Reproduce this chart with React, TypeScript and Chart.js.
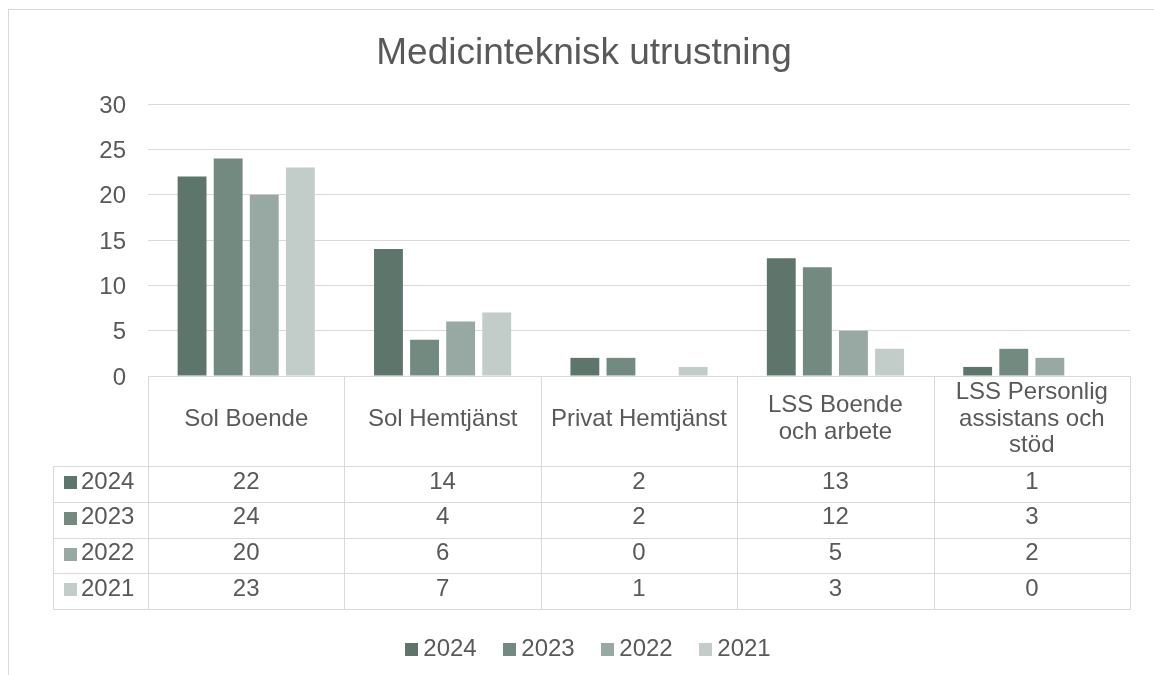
import React, { useEffect, useRef } from "react";
import { Chart, registerables } from "chart.js";

Chart.register(...registerables);

const TITLE = "Medicinteknisk utrustning";
const categories: string[][] = [
  ["Sol Boende"],
  ["Sol Hemtjänst"],
  ["Privat Hemtjänst"],
  ["LSS Boende", "och arbete"],
  ["LSS Personlig", "assistans och", "stöd"],
];
const seriesNames = ["2024", "2023", "2022", "2021"];
const values2024 = [22, 14, 2, 13, 1];
const values2023 = [24, 4, 2, 12, 3];
const values2022 = [20, 6, 0, 5, 2];
const values2021 = [23, 7, 1, 3, 0];
const seriesValues = [values2024, values2023, values2022, values2021];
const seriesColors = ["#5E756B", "#738A81", "#98A8A2", "#C2CCC9"];
const yTicksMax = 30;
const yTicksStep = 5;

const FONT = "'Liberation Sans', Arial, sans-serif";
const TEXT = "#595959";
const LINE = "#D9D9D9";

const tablePlugin = {
  id: "dataTable",
  afterDraw(chart: any) {
    const ctx: CanvasRenderingContext2D = chart.ctx;
    const area = chart.chartArea;
    const x = chart.scales.x;
    const n = categories.length;
    const catW = (area.right - area.left) / n;
    ctx.save();

    // outer frame
    ctx.strokeStyle = LINE;
    ctx.lineWidth = 1;
    ctx.strokeRect(8.5, 9.5, 1300, 800);

    // title
    ctx.fillStyle = TEXT;
    ctx.font = `37px ${FONT}`;
    ctx.textAlign = "center";
    ctx.textBaseline = "alphabetic";
    ctx.fillText(TITLE, 584, 64);

    // table geometry
    const top = Math.round(area.bottom);
    const headerBottom = 466;
    const rowH = 35.8;
    const tableLeft = 53;
    const rowYs = seriesNames.map((_, i) => headerBottom + i * rowH);
    const tableBottom = headerBottom + seriesNames.length * rowH;

    ctx.strokeStyle = LINE;
    ctx.lineWidth = 1;
    ctx.beginPath();
    for (let i = 0; i <= n; i++) {
      const px = Math.round(area.left + i * catW) + 0.5;
      ctx.moveTo(px, top);
      ctx.lineTo(px, Math.round(tableBottom) + 0.5);
    }
    ctx.moveTo(tableLeft + 0.5, headerBottom);
    ctx.lineTo(tableLeft + 0.5, Math.round(tableBottom) + 0.5);
    for (let r = 0; r <= seriesNames.length; r++) {
      const py = Math.round(headerBottom + r * rowH) + 0.5;
      ctx.moveTo(tableLeft, py);
      ctx.lineTo(Math.round(area.right) + 1, py);
    }
    ctx.stroke();

    // header labels
    ctx.fillStyle = TEXT;
    ctx.font = `24px ${FONT}`;
    ctx.textAlign = "center";
    ctx.textBaseline = "middle";
    const lineH = 26.7;
    categories.forEach((lines, i) => {
      const cx = x.getPixelForValue(i);
      const cy = 419;
      lines.forEach((t, j) => {
        ctx.fillText(t, cx, cy + (j - (lines.length - 1) / 2) * lineH);
      });
    });

    // rows
    seriesNames.forEach((name, r) => {
      const cy = rowYs[r] + rowH / 2 - 2;
      ctx.fillStyle = seriesColors[r];
      ctx.fillRect(64, Math.round(cy - 6), 13, 13);
      ctx.fillStyle = TEXT;
      ctx.textAlign = "left";
      ctx.fillText(name, 81, cy);
      ctx.textAlign = "center";
      seriesValues[r].forEach((v, i) => {
        ctx.fillText(String(v), x.getPixelForValue(i), cy);
      });
    });

    // legend
    const box = 13;
    const gapText = 5;
    const gapItem = 26.6;
    const widths = seriesNames.map((s) => box + gapText + ctx.measureText(s).width);
    const total = widths.reduce((a, b) => a + b, 0) + gapItem * (seriesNames.length - 1);
    let lx = 588 - total / 2;
    const ly = 649;
    seriesNames.forEach((s, i) => {
      ctx.fillStyle = seriesColors[i];
      ctx.fillRect(Math.round(lx), ly - 6, box, box);
      ctx.fillStyle = TEXT;
      ctx.textAlign = "left";
      ctx.fillText(s, lx + box + gapText, ly);
      lx += widths[i] + gapItem;
    });

    ctx.restore();
  },
};

export default function App() {
  const ref = useRef<HTMLCanvasElement | null>(null);
  useEffect(() => {
    if (!ref.current) return;
    const chart = new Chart(ref.current, {
      type: "bar",
      data: {
        labels: categories,
        datasets: seriesNames.map((name, i) => ({
          label: name,
          data: seriesValues[i],
          backgroundColor: seriesColors[i],
          borderWidth: 0,
          categoryPercentage: 0.735,
          barPercentage: 0.8,
        })),
      },
      options: {
        responsive: false,
        animation: false,
        layout: { padding: { top: 104, left: 0, right: 24, bottom: 299 } },
        plugins: {
          legend: { display: false },
          title: { display: false },
          tooltip: { enabled: false },
        },
        scales: {
          x: { display: false },
          y: {
            min: 0,
            max: yTicksMax,
            afterFit: (s: any) => {
              s.width = 148;
            },
            border: { display: false },
            grid: { color: LINE, lineWidth: 1, drawTicks: false },
            ticks: {
              stepSize: yTicksStep,
              padding: 22,
              labelOffset: 2,
              color: TEXT,
              font: { family: FONT, size: 24 },
            },
          },
        },
      },
      plugins: [tablePlugin],
    });
    return () => chart.destroy();
  }, []);
  return (
    <div style={{ position: "fixed", left: 0, top: 0, width: 1154, height: 675, background: "#fff" }}>
      <canvas ref={ref} width={1154} height={675} />
    </div>
  );
}
